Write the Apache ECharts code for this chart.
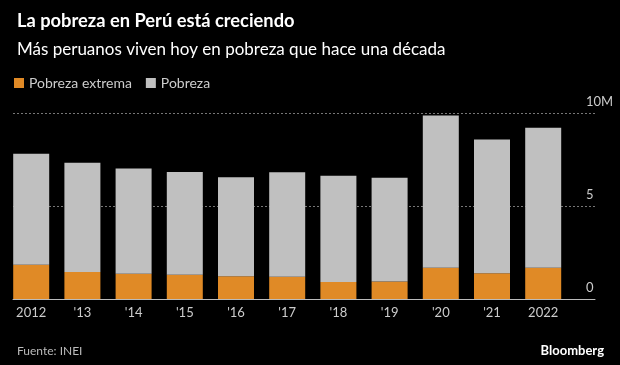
<!DOCTYPE html>
<html>
<head>
<meta charset="utf-8">
<script src="https://cdn.jsdelivr.net/npm/echarts@6/dist/echarts.min.js"></script>
<style>
html,body{margin:0;padding:0;background:#000;}
#c{width:620px;height:365px;}
</style>
</head>
<body>
<div id="c"></div>
<script>
var categories = ['2012', "'13", "'14", "'15", "'16", "'17", "'18", "'19", "'20", "'21", '2022'];
var pobrezaTotal = [7.81, 7.33, 7.02, 6.83, 6.54, 6.81, 6.63, 6.52, 9.87, 8.58, 9.21];
var pobrezaExtrema = [1.84, 1.45, 1.36, 1.31, 1.22, 1.20, 0.91, 0.94, 1.68, 1.38, 1.68];
var yTicks = [0, 5, 10];

var pobrezaResto = pobrezaTotal.map(function (v, i) { return +(v - pobrezaExtrema[i]).toFixed(2); });

var FONT = 'Lato';
var chart = echarts.init(document.getElementById('c'), null, {renderer: 'canvas'});
chart.setOption({
  backgroundColor: '#000',
  animation: false,
  textStyle: {fontFamily: FONT},
  title: [
    {text: 'La pobreza en Perú está creciendo', left: 12, top: 7,
     textStyle: {color: '#fff', fontSize: 18.3, fontWeight: 'bold', fontFamily: FONT}},
    {text: 'Más peruanos viven hoy en pobreza que hace una década', left: 12, top: 36,
     textStyle: {color: '#fff', fontSize: 17, fontWeight: 'normal', fontFamily: FONT}},
    {text: 'Fuente: INEI', left: 12, top: 340,
     textStyle: {color: '#bbb', fontSize: 12, fontWeight: 'normal', fontFamily: FONT}},
    {text: 'Bloomberg', right: 11, top: 339,
     textStyle: {color: '#fff', fontSize: 13, fontWeight: 'bold', fontFamily: FONT}}
  ],
  legend: {
    left: 9, top: 71, icon: 'rect', itemWidth: 10, itemHeight: 10, itemGap: 14,
    textStyle: {color: '#ccc', fontSize: 14, fontFamily: FONT},
    data: ['Pobreza extrema', 'Pobreza']
  },
  grid: [
    {left: 5.6, right: 51.2, top: 113, bottom: 66},
    {left: 13, right: 25, top: 113, bottom: 66}
  ],
  xAxis: [
    {type: 'category', gridIndex: 0, data: categories,
     axisLine: {show: false}, axisTick: {show: false},
     axisLabel: {color: '#ccc', fontSize: 13, margin: 7, fontFamily: FONT}},
    {type: 'value', gridIndex: 1, min: 0, max: 1, show: true,
     axisLine: {show: true, onZero: true, lineStyle: {color: '#bbb', width: 1}},
     axisTick: {show: false}, axisLabel: {show: false}, splitLine: {show: false}}
  ],
  yAxis: [
    {type: 'value', gridIndex: 0, min: 0, max: 10, interval: 5, show: false},
    {type: 'value', gridIndex: 1, min: 0, max: 10, interval: 5, position: 'right',
     axisLine: {show: false}, axisTick: {show: false},
     splitLine: {show: true, lineStyle: {color: '#777', type: [2, 2], width: 1}},
     axisLabel: {color: '#ccc', fontSize: 13, margin: -9, align: 'left',
       verticalAlign: 'bottom', padding: [0, 0, 5, 0], fontFamily: FONT,
       formatter: function (v) { return v === 10 ? '10M' : String(v); }}}
  ],
  series: [
    {name: 'Pobreza extrema', type: 'bar', stack: 'p', xAxisIndex: 0, yAxisIndex: 0,
     barWidth: 36, itemStyle: {color: '#e08a26'}, data: pobrezaExtrema, z: 3},
    {name: 'Pobreza', type: 'bar', stack: 'p', xAxisIndex: 0, yAxisIndex: 0,
     barWidth: 36, itemStyle: {color: '#c0c0c0'}, data: pobrezaResto, z: 3}
  ]
});
</script>
</body>
</html>
